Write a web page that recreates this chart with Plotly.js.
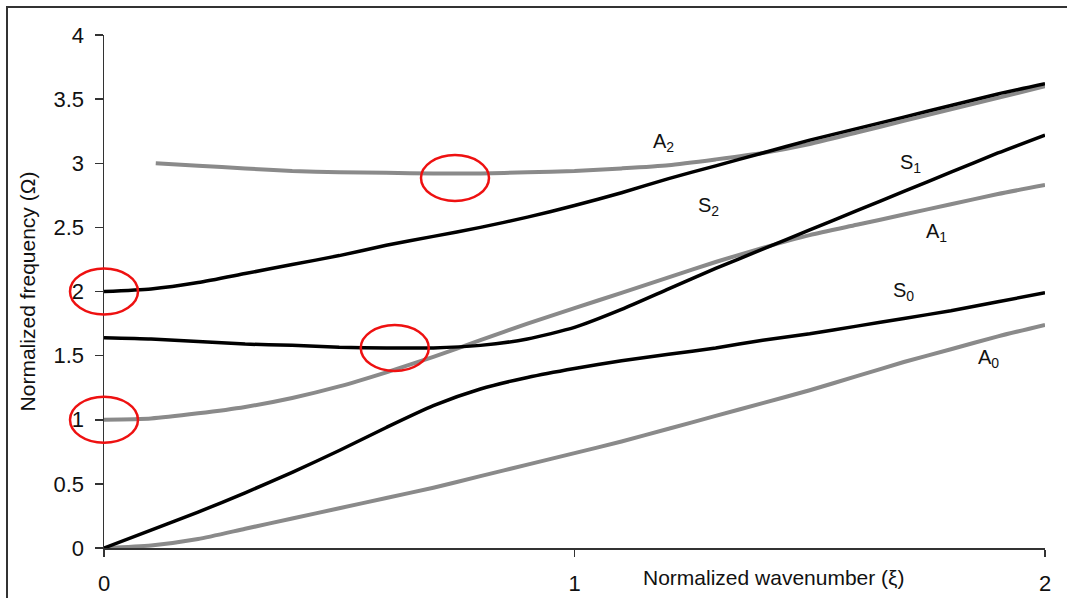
<!DOCTYPE html>
<html>
<head>
<meta charset="utf-8">
<script src="https://cdn.plot.ly/plotly-3.0.1.min.js"></script>
<style>
  html, body { margin: 0; padding: 0; background: #fff; }
  #wrap { position: relative; width: 1067px; height: 598px; overflow: hidden; }
  #chart { width: 1067px; height: 598px; }
  #frame { position: absolute; left: 6px; top: 6px; width: 1200px; height: 800px;
           border-top: 2px solid #333; border-left: 2px solid #333; pointer-events: none; }
</style>
</head>
<body>
<div id="wrap"><div id="chart"></div><div id="frame"></div></div>
<script>
// Normalized wavenumber (ξ)
const xi = [0, 0.1, 0.2, 0.3, 0.4, 0.5, 0.6, 0.7, 0.8, 0.9, 1.0, 1.1, 1.2, 1.3, 1.4, 1.5, 1.6, 1.7, 1.8, 1.9, 2.0];

// Normalized frequency (Ω) per mode
const A0 = [0, 0.02, 0.07, 0.15, 0.23, 0.31, 0.39, 0.47, 0.56, 0.65, 0.74, 0.83, 0.93, 1.03, 1.13, 1.23, 1.34, 1.45, 1.55, 1.65, 1.74];
const S0 = [0, 0.14, 0.28, 0.43, 0.59, 0.76, 0.94, 1.11, 1.24, 1.33, 1.40, 1.46, 1.51, 1.56, 1.62, 1.67, 1.73, 1.79, 1.85, 1.92, 1.99];
const A1 = [1.0, 1.01, 1.05, 1.10, 1.17, 1.26, 1.37, 1.49, 1.62, 1.75, 1.87, 1.99, 2.11, 2.23, 2.34, 2.44, 2.52, 2.60, 2.68, 2.76, 2.83];
const S1 = [1.64, 1.63, 1.61, 1.59, 1.58, 1.565, 1.56, 1.56, 1.58, 1.63, 1.72, 1.86, 2.02, 2.18, 2.33, 2.48, 2.63, 2.78, 2.93, 3.08, 3.22];
const S2 = [2.0, 2.02, 2.07, 2.14, 2.21, 2.28, 2.36, 2.43, 2.50, 2.58, 2.67, 2.77, 2.88, 2.98, 3.08, 3.18, 3.27, 3.36, 3.45, 3.54, 3.62];
const xiA2 = [0.11, 0.2, 0.3, 0.4, 0.5, 0.6, 0.7, 0.8, 0.9, 1.0, 1.1, 1.2, 1.3, 1.4, 1.5, 1.6, 1.7, 1.8, 1.9, 2.0];
const A2 = [3.0, 2.98, 2.96, 2.94, 2.93, 2.925, 2.92, 2.92, 2.93, 2.94, 2.96, 2.985, 3.03, 3.08, 3.15, 3.24, 3.33, 3.42, 3.51, 3.60];

// Mode labels
const labelText = ['A<sub>2</sub>', 'S<sub>2</sub>', 'S<sub>1</sub>', 'A<sub>1</sub>', 'S<sub>0</sub>', 'A<sub>0</sub>'];
const labelX = [1.19, 1.285, 1.715, 1.77, 1.70, 1.88];
const labelY = [3.16, 2.66, 3.00, 2.46, 2.00, 1.48];

// Highlighted points (red ellipses)
const ringX = [0, 0, 0.618, 0.746];
const ringY = [2.0, 1.0, 1.56, 2.885];

const X_MAX = 2, Y_MAX = 4;
const GREY = '#8a8a8a', BLACK = '#000000';

function curve(x, y, color, width) {
  return { x: x, y: y, type: 'scatter', mode: 'lines',
           line: { color: color, width: width, shape: 'spline', smoothing: 0.6 },
           hoverinfo: 'skip', showlegend: false };
}

const data = [
  curve(xi, A0, GREY, 4),
  curve(xi, A1, GREY, 4),
  curve(xiA2, A2, GREY, 4),
  curve(xi, S0, BLACK, 3.5),
  curve(xi, S1, BLACK, 3.5),
  curve(xi, S2, BLACK, 3.5)
];

const font = 'Liberation Sans, Arial, sans-serif';

const annotations = labelText.map((t, i) => ({
  x: labelX[i], y: labelY[i], xref: 'x', yref: 'y', text: t, showarrow: false,
  font: { family: font, size: 20, color: '#111' }
}));
annotations.push({
  x: 0.712, y: 0, xref: 'paper', yref: 'paper', xanchor: 'center', yanchor: 'top', yshift: -16,
  text: 'Normalized wavenumber (ξ)', showarrow: false,
  font: { family: font, size: 21, color: '#111' }
});

const shapes = ringX.map((cx, i) => ({
  type: 'circle', xref: 'x domain', yref: 'y domain',
  xsizemode: 'pixel', ysizemode: 'pixel',
  xanchor: cx / X_MAX, yanchor: ringY[i] / Y_MAX,
  x0: -34, x1: 34, y0: -23, y1: 23,
  line: { color: '#ee1111', width: 2.5 }, layer: 'above'
}));

const layout = {
  width: 1067, height: 598,
  margin: { l: 104, r: 22, t: 35, b: 50 },
  paper_bgcolor: '#fff', plot_bgcolor: '#fff',
  font: { family: font, color: '#111' },
  xaxis: {
    range: [0, X_MAX], tickvals: [0, 1, 2], ticktext: ['0', '1', '2'],
    showgrid: false, zeroline: false, showline: true, linecolor: '#333', linewidth: 1.5,
    ticks: 'outside', ticklen: 7, tickwidth: 1.5, tickcolor: '#333', ticklabelstandoff: 8,
    tickfont: { family: font, size: 22, color: '#111' }, fixedrange: true
  },
  yaxis: {
    range: [0, Y_MAX], tickvals: [0, 0.5, 1, 1.5, 2, 2.5, 3, 3.5, 4],
    ticktext: ['0', '0.5', '1', '1.5', '2', '2.5', '3', '3.5', '4'],
    showgrid: false, zeroline: false, showline: true, linecolor: '#333', linewidth: 1.5,
    ticks: 'outside', ticklen: 8, tickwidth: 1.5, tickcolor: '#333', ticklabelstandoff: 6,
    tickfont: { family: font, size: 22, color: '#111' },
    title: { text: 'Normalized frequency (Ω)', font: { family: font, size: 21, color: '#111' }, standoff: 12 },
    fixedrange: true
  },
  annotations: annotations,
  shapes: shapes,
  showlegend: false
};

Plotly.newPlot('chart', data, layout, { staticPlot: true, displayModeBar: false });
</script>
</body>
</html>
